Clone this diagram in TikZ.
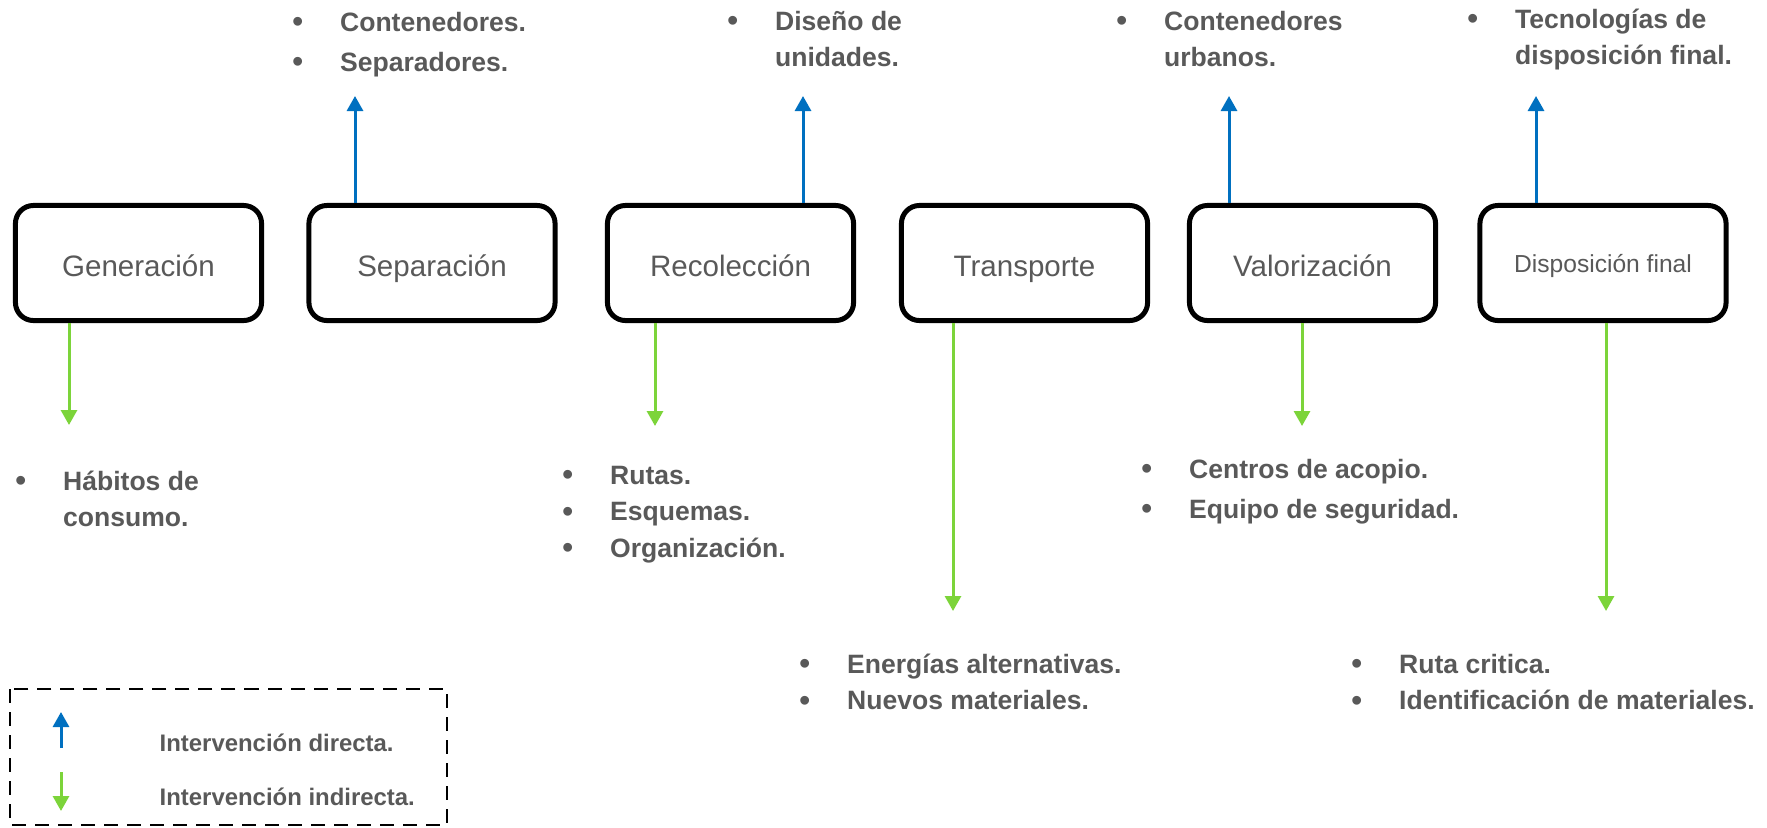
\documentclass[tikz,border=0pt]{standalone}
\usepackage{fontspec}
\setmainfont{Liberation Sans}
\usepackage{tikz}
\usetikzlibrary{arrows.meta,calc}
\definecolor{txtgray}{HTML}{595959}
\definecolor{dirblue}{HTML}{0070C0}
\definecolor{indgreen}{HTML}{7CD43A}
\newcommand{\itm}{{\mdseries\fontsize{9.2}{9}\selectfont\raisebox{-0.5pt}{•}}}

\begin{document}
\begin{tikzpicture}[
  x=0.01cm, y=-0.01cm,
  stage/.style={
      draw=black,
      line width=0.05cm,
      rounded corners=0.18cm,
      minimum width=2.46cm,
      minimum height=1.15cm,
      text height=9pt,
      text depth=1.3pt,
      text=txtgray,
      font=\fontsize{8.4}{10}\selectfont
    },
  direct arrow/.style={
      draw=dirblue,
      line width=0.03cm,
      arrows = {-Triangle[length=0.15cm,width=0.16cm]}
    },
  indirect arrow/.style={
      draw=indgreen,
      line width=0.03cm,
      arrows = {-Triangle[length=0.15cm,width=0.16cm]}
    },
  items/.style={
      anchor=base west,
      inner sep=0pt,
      text=txtgray,
      font=\fontsize{7.55}{10.4}\selectfont\bfseries
    },
  legend text/.style={
      anchor=base west,
      inner sep=0pt,
      text=txtgray,
      font=\fontsize{6.8}{8}\selectfont\bfseries
    }]
  \useasboundingbox (0,0) rectangle (1767,827);

  \node [stage] (gen) at (138.5,263) {Generación};
  \node [stage] (sep) at (432,263) {Separación};
  \node [stage] (rec) at (730.5,263) {Recolección};
  \node [stage] (trans) at (1024.5,263) {Transporte};
  \node [stage] (val) at (1312.5,263) {Valorización};
  \node [stage, font=\fontsize{7}{8}\selectfont, text height=6.6pt] (disp) at (1603,263) {Disposición final};

  % intervención directa
  \coordinate (sep_up) at (355,96);
  \coordinate (rec_up) at (803,96);
  \coordinate (val_up) at (1229,96);
  \coordinate (disp_up) at (1536,96);
  \draw [direct arrow] (sep.north -| sep_up) -- (sep_up);
  \draw [direct arrow] (rec.north -| rec_up) -- (rec_up);
  \draw [direct arrow] (val.north -| val_up) -- (val_up);
  \draw [direct arrow] (disp.north -| disp_up) -- (disp_up);

  % intervención indirecta
  \coordinate (gen_down) at (69,425);
  \coordinate (rec_down) at (655,426);
  \coordinate (trans_down) at (953,611);
  \coordinate (val_down) at (1302,426);
  \coordinate (disp_down) at (1606,611);
  \draw [indirect arrow] (gen.south -| gen_down) -- (gen_down);
  \draw [indirect arrow] (rec.south -| rec_down) -- (rec_down);
  \draw [indirect arrow] (trans.south -| trans_down) -- (trans_down);
  \draw [indirect arrow] (val.south -| val_down) -- (val_down);
  \draw [indirect arrow] (disp.south -| disp_down) -- (disp_down);

  \node [items] (sep_list) at (291.4,31) {\begin{tabular}[t]{@{}p{0.48cm}@{}l@{}}
    \itm & Contenedores.\\[1pt]
    \itm & Separadores.
  \end{tabular}};
  \node [items] (rec_list_up) at (726.4,30) {\begin{tabular}[t]{@{}p{0.48cm}@{}l@{}}
    \itm & Diseño de\\
    & unidades.
  \end{tabular}};
  \node [items] (val_list_up) at (1115.4,30) {\begin{tabular}[t]{@{}p{0.48cm}@{}l@{}}
    \itm & Contenedores\\
    & urbanos.
  \end{tabular}};
  \node [items] (disp_list_up) at (1466.4,28) {\begin{tabular}[t]{@{}p{0.48cm}@{}l@{}}
    \itm & Tecnologías de\\
    & disposición final.
  \end{tabular}};

  \node [items] (gen_list) at (14.4,490) {\begin{tabular}[t]{@{}p{0.48cm}@{}l@{}}
    \itm & Hábitos de\\
    & consumo.
  \end{tabular}};
  \node [items] (rec_list) at (561.4,484) {\begin{tabular}[t]{@{}p{0.48cm}@{}l@{}}
    \itm & Rutas.\\
    \itm & Esquemas.\\
    \itm & Organización.
  \end{tabular}};
  \node [items] (trans_list) at (798.4,673) {\begin{tabular}[t]{@{}p{0.48cm}@{}l@{}}
    \itm & Energías alternativas.\\
    \itm & Nuevos materiales.
  \end{tabular}};
  \node [items] (val_list) at (1140.4,478) {\begin{tabular}[t]{@{}p{0.48cm}@{}l@{}}
    \itm & Centros de acopio.\\[1pt]
    \itm & Equipo de seguridad.
  \end{tabular}};
  \node [items] (disp_list) at (1350.4,673) {\begin{tabular}[t]{@{}p{0.48cm}@{}l@{}}
    \itm & Ruta critica.\\
    \itm & Identificación de materiales.
  \end{tabular}};

  % leyenda
  \draw [dash pattern=on 0.14cm off 0.09cm, line width=0.028cm] (10,689) rectangle (447,825);
  \coordinate (leg_d_from) at (61,748);
  \coordinate (leg_d_to) at (61,712);
  \coordinate (leg_i_from) at (61,772);
  \coordinate (leg_i_to) at (61,811);
  \draw [direct arrow] (leg_d_from) -- (leg_d_to);
  \draw [indirect arrow] (leg_i_from) -- (leg_i_to);
  \node [legend text] (leg_direct) at (159,751) {Intervención directa.};
  \node [legend text] (leg_indirect) at (159,805) {Intervención indirecta.};
\end{tikzpicture}
\end{document}
